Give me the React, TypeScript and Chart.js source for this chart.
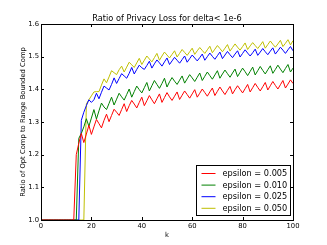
import React, { useEffect, useRef } from "react";
import { Chart, registerables } from "chart.js";

Chart.register(...registerables);

const TITLE = "Ratio of Privacy Loss for delta< 1e-6";
const X_LABEL = "k";
const Y_LABEL = "Ratio of Opt Comp to Range Bounded Comp";
const X_TICKS = [0, 20, 40, 60, 80, 100];
const Y_TICKS = [1.0, 1.1, 1.2, 1.3, 1.4, 1.5, 1.6];
const SERIES_LABELS = ["epsilon = 0.005", "epsilon = 0.010", "epsilon = 0.025", "epsilon = 0.050"];
const SERIES_COLORS = ["#ff0000", "#008000", "#0000ff", "#bfbf00"];

const K = Array.from({ length: 101 }, (_, i) => i);

const RED = [
  1.0, 1.0, 1.0, 1.0, 1.0, 1.0, 1.0, 1.0, 1.0, 1.0, 1.0, 1.0, 1.0, 1.0,
  1.2, 1.235, 1.265, 1.237, 1.263, 1.29, 1.262, 1.285, 1.308, 1.295, 1.282, 1.305, 1.324, 1.301, 1.32, 1.339,
  1.33, 1.32, 1.338, 1.356, 1.332, 1.35, 1.366, 1.355, 1.343, 1.36, 1.376, 1.35, 1.365, 1.381, 1.368, 1.356,
  1.371, 1.386, 1.36, 1.375, 1.39, 1.377, 1.366, 1.379, 1.392, 1.369, 1.382, 1.395, 1.384, 1.373, 1.386,
  1.399, 1.376, 1.388, 1.401, 1.39, 1.379, 1.392, 1.404, 1.381, 1.394, 1.407, 1.395, 1.384, 1.397, 1.409,
  1.386, 1.399, 1.411, 1.4, 1.389, 1.402, 1.415, 1.392, 1.405, 1.418, 1.406, 1.395, 1.408, 1.421, 1.398,
  1.411, 1.424, 1.412, 1.401, 1.414, 1.427, 1.404, 1.416, 1.429, 1.418,
];

const GREEN = [
  1.0, 1.0, 1.0, 1.0, 1.0, 1.0, 1.0, 1.0, 1.0, 1.0, 1.0, 1.0, 1.0, 1.0, 1.0,
  1.25, 1.265, 1.285, 1.31, 1.287, 1.312, 1.338, 1.309, 1.334, 1.358, 1.346, 1.338, 1.357, 1.376, 1.352,
  1.37, 1.388, 1.377, 1.367, 1.384, 1.401, 1.376, 1.393, 1.41, 1.399, 1.389, 1.405, 1.421, 1.395, 1.411,
  1.427, 1.415, 1.403, 1.418, 1.434, 1.407, 1.423, 1.436, 1.425, 1.415, 1.428, 1.441, 1.419, 1.432, 1.445,
  1.435, 1.424, 1.437, 1.45, 1.427, 1.44, 1.453, 1.442, 1.431, 1.444, 1.457, 1.434, 1.447, 1.459, 1.448,
  1.437, 1.45, 1.462, 1.439, 1.452, 1.465, 1.454, 1.442, 1.455, 1.468, 1.444, 1.457, 1.47, 1.458, 1.447,
  1.46, 1.472, 1.449, 1.461, 1.474, 1.462, 1.451, 1.464, 1.476, 1.453, 1.465,
];

const BLUE = [
  1.0, 1.0, 1.0, 1.0, 1.0, 1.0, 1.0, 1.0, 1.0, 1.0, 1.0, 1.0, 1.0, 1.0, 1.0, 1.0,
  1.305, 1.33, 1.35, 1.368, 1.36, 1.368, 1.388, 1.371, 1.391, 1.41, 1.404, 1.398, 1.415, 1.435, 1.418,
  1.433, 1.448, 1.441, 1.434, 1.449, 1.467, 1.447, 1.461, 1.474, 1.466, 1.461, 1.473, 1.486, 1.465, 1.478,
  1.49, 1.481, 1.471, 1.484, 1.496, 1.476, 1.487, 1.498, 1.489, 1.48, 1.491, 1.502, 1.483, 1.494, 1.505,
  1.496, 1.487, 1.497, 1.508, 1.489, 1.5, 1.511, 1.501, 1.492, 1.503, 1.514, 1.494, 1.505, 1.516, 1.506,
  1.497, 1.508, 1.518, 1.499, 1.51, 1.521, 1.511, 1.502, 1.512, 1.523, 1.504, 1.514, 1.525, 1.515, 1.506,
  1.517, 1.527, 1.508, 1.518, 1.529, 1.52, 1.51, 1.521, 1.531, 1.518,
];

const YELLOW = [
  1.0, 1.0, 1.0, 1.0, 1.0, 1.0, 1.0, 1.0, 1.0, 1.0, 1.0, 1.0, 1.0, 1.0, 1.0, 1.0, 1.0, 1.0,
  1.355, 1.368, 1.38, 1.392, 1.393, 1.393, 1.413, 1.432, 1.42, 1.438, 1.457, 1.451, 1.445, 1.46, 1.471,
  1.453, 1.468, 1.483, 1.475, 1.467, 1.481, 1.495, 1.476, 1.489, 1.502, 1.493, 1.484, 1.497, 1.51, 1.489,
  1.502, 1.514, 1.505, 1.496, 1.507, 1.518, 1.499, 1.51, 1.522, 1.513, 1.504, 1.515, 1.526, 1.507, 1.518,
  1.528, 1.519, 1.51, 1.521, 1.532, 1.512, 1.523, 1.534, 1.525, 1.515, 1.526, 1.537, 1.517, 1.528, 1.539,
  1.529, 1.52, 1.531, 1.542, 1.522, 1.533, 1.543, 1.534, 1.525, 1.535, 1.546, 1.526, 1.537, 1.548, 1.538,
  1.529, 1.539, 1.55, 1.531, 1.541, 1.552, 1.536, 1.549,
];

const SERIES = [RED, GREEN, BLUE, YELLOW];

const FONT = '"DejaVu Sans", sans-serif';
const FS = 8.2;
const FS_SMALL = 6.8;
const TICK_LEN = 3;

const decorPlugin = {
  id: "mplDecor",
  afterDraw(chart: any) {
    const { ctx, chartArea: a, scales } = chart;
    const xs = scales.x;
    const ys = scales.y;
    ctx.save();
    ctx.strokeStyle = "#000";
    ctx.lineWidth = 1;
    // inward ticks on all four sides
    ctx.beginPath();
    for (const t of xs.ticks) {
      const px = Math.round(xs.getPixelForValue(t.value)) + 0.5;
      ctx.moveTo(px, a.bottom);
      ctx.lineTo(px, a.bottom - TICK_LEN);
      ctx.moveTo(px, a.top);
      ctx.lineTo(px, a.top + TICK_LEN);
    }
    for (const t of ys.ticks) {
      const py = Math.round(ys.getPixelForValue(t.value)) + 0.5;
      ctx.moveTo(a.left, py);
      ctx.lineTo(a.left + TICK_LEN, py);
      ctx.moveTo(a.right, py);
      ctx.lineTo(a.right - TICK_LEN, py);
    }
    ctx.stroke();
    // frame
    ctx.strokeRect(Math.round(a.left) + 0.5, Math.round(a.top) + 0.5, Math.round(a.right - a.left), Math.round(a.bottom - a.top));

    // legend (lower right, inside the axes)
    const lx = Math.round(a.right) - 96.5;
    const ly = Math.round(a.bottom) - 54.5;
    const lw = 94;
    const lh = 50;
    ctx.fillStyle = "#fff";
    ctx.fillRect(lx, ly, lw, lh);
    ctx.strokeStyle = "#000";
    ctx.strokeRect(lx, ly, lw, lh);
    ctx.font = `${FS}px ${FONT}`;
    ctx.textBaseline = "middle";
    ctx.textAlign = "left";
    chart.data.datasets.forEach((ds: any, i: number) => {
      const y = ly + 8 + i * 11.6;
      ctx.strokeStyle = ds.borderColor;
      ctx.beginPath();
      ctx.moveTo(lx + 5, y);
      ctx.lineTo(lx + 19, y);
      ctx.stroke();
      ctx.fillStyle = "#000";
      ctx.fillText(ds.label, lx + 26, y + 0.5);
    });

    // title and axis labels
    const cx = (a.left + a.right) / 2;
    const cy = (a.top + a.bottom) / 2;
    ctx.fillStyle = "#000";
    ctx.textAlign = "center";
    ctx.textBaseline = "middle";
    ctx.font = `${FS}px ${FONT}`;
    ctx.fillText(TITLE, cx, 18.5);
    ctx.font = `${FS_SMALL}px ${FONT}`;
    ctx.fillText(X_LABEL, cx, 235);
    ctx.save();
    ctx.translate(23, cy);
    ctx.rotate(-Math.PI / 2);
    ctx.fillText(Y_LABEL, 0, 0);
    ctx.restore();
    ctx.restore();
  },
};

export default function App() {
  const ref = useRef<HTMLCanvasElement | null>(null);

  useEffect(() => {
    document.body.style.margin = "0";
    const canvas = ref.current;
    if (!canvas) return;
    const chart = new Chart(canvas, {
      type: "line",
      data: {
        datasets: SERIES.map((s, i) => ({
          label: SERIES_LABELS[i],
          data: K.map((k, j) => ({ x: k, y: s[j] })),
          borderColor: SERIES_COLORS[i],
          backgroundColor: SERIES_COLORS[i],
          borderWidth: 1,
          pointRadius: 0,
          tension: 0,
          fill: false,
        })),
      },
      options: {
        animation: false,
        responsive: false,
        devicePixelRatio: 1,
        layout: { padding: { left: 0, top: 24, right: 34, bottom: 0 } },
        plugins: {
          legend: { display: false },
          title: { display: false },
          tooltip: { enabled: false },
        },
        scales: {
          x: {
            type: "linear",
            min: 0,
            max: 100,
            grid: { display: false, drawTicks: false },
            border: { display: false },
            afterBuildTicks: (s: any) => {
              s.ticks = X_TICKS.map((v) => ({ value: v }));
            },
            afterFit: (s: any) => {
              s.height = 25;
            },
            ticks: {
              padding: 2,
              color: "#000",
              maxRotation: 0,
              autoSkip: false,
              font: { family: FONT, size: FS_SMALL },
              callback: (v: any) => String(v),
            },
          },
          y: {
            type: "linear",
            min: 1.0,
            max: 1.6,
            grid: { display: false, drawTicks: false },
            border: { display: false },
            afterBuildTicks: (s: any) => {
              s.ticks = Y_TICKS.map((v) => ({ value: v }));
            },
            afterFit: (s: any) => {
              s.width = 41;
            },
            ticks: {
              padding: 2,
              color: "#000",
              autoSkip: false,
              font: { family: FONT, size: FS_SMALL },
              callback: (v: any) => Number(v).toFixed(1),
            },
          },
        },
      },
      plugins: [decorPlugin],
    } as any);
    return () => chart.destroy();
  }, []);

  return (
    <div style={{ width: 327, height: 245, background: "#fff" }}>
      <canvas ref={ref} width={327} height={245} style={{ display: "block", width: 327, height: 245 }} />
    </div>
  );
}
